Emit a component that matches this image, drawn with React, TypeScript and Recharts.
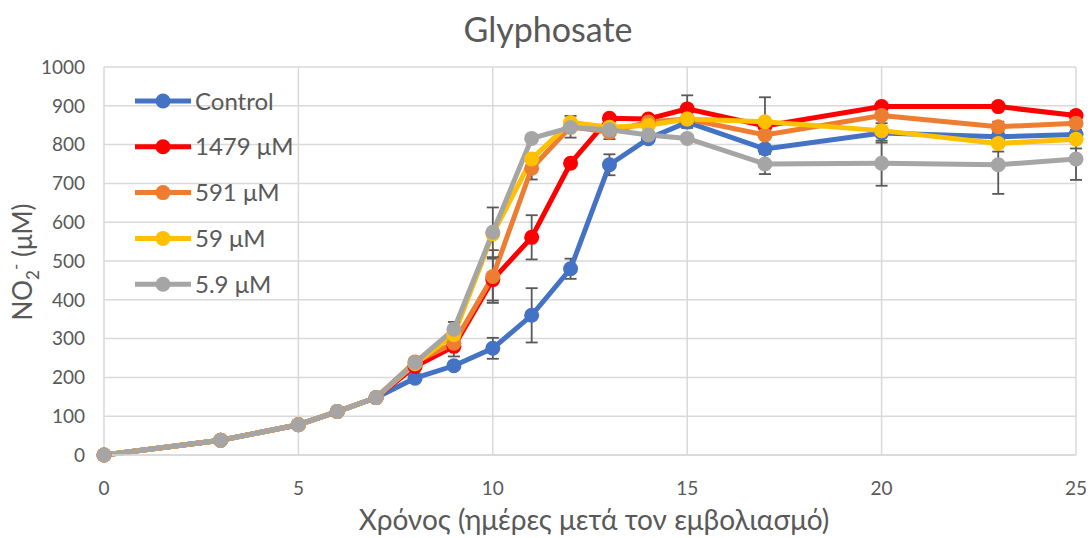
import React from 'react';
import { LineChart, Line, XAxis, YAxis, CartesianGrid, ErrorBar, Customized } from 'recharts';

const days = [0, 3, 5, 6, 7, 8, 9, 10, 11, 12, 13, 14, 15, 17, 20, 23, 25];
const control = [0, 38, 78, 112, 148, 198, 230, 275, 360, 480, 748, 815, 858, 789, 830, 820, 826];
const c1479 = [0, 38, 78, 112, 148, 228, 280, 452, 561, 752, 868, 866, 892, 848, 898, 898, 875];
const c591 = [0, 38, 78, 112, 148, 240, 288, 460, 739, 846, 832, 858, 866, 825, 875, 846, 855];
const c59 = [0, 38, 78, 112, 148, 235, 310, 570, 763, 857, 845, 850, 866, 859, 836, 803, 814];
const c5_9 = [0, 38, 78, 112, 148, 238, 324, 574, 816, 844, 838, 825, 816, 750, 752, 748, 763];

const errControl = [0, 0, 0, 0, 0, 0, 0, 27, 70, 26, 27, 0, 0, 0, 25, 0, 0];
const err1479 = [0, 0, 0, 0, 0, 0, 26, 54, 57, 0, 0, 0, 35, 0, 0, 0, 0];
const err591 = [0, 0, 0, 0, 0, 0, 0, 68, 29, 28, 18, 0, 0, 0, 0, 13, 0];
const err59 = [0, 0, 0, 0, 0, 0, 0, 0, 0, 0, 0, 0, 23, 63, 0, 21, 24];
const err5_9 = [0, 0, 0, 0, 0, 0, 19, 64, 0, 0, 0, 0, 0, 26, 58, 75, 54];

const seriesNames = ['Control', '1479 μM', '591 μM', '59 μM', '5.9 μM'];
const seriesColors = ['#4472C4', '#FF0000', '#ED7D31', '#FFC000', '#A5A5A5'];
const seriesValues = [control, c1479, c591, c59, c5_9];
const seriesErrors = [errControl, err1479, err591, err59, err5_9];

const xTicks = [0, 5, 10, 15, 20, 25];
const yTicks = [0, 100, 200, 300, 400, 500, 600, 700, 800, 900, 1000];

const titleText = 'Glyphosate';
const xTitle = 'Χρόνος (ημέρες μετά τον εμβολιασμό)';

const data = days.map((d, i) => {
  const row: any = { day: d };
  seriesValues.forEach((vals, s) => {
    row['s' + s] = vals[i];
    row['e' + s] = seriesErrors[s][i] || null;
  });
  return row;
});

const FONT = 'Lato, "Open Sans", sans-serif';
const TEXT = '#595959';

const Texts = () => (
  <g fontFamily={FONT} fill={TEXT}>
    <text x={548} y={42} textAnchor="middle" fontSize={34}>{titleText}</text>
    <text x={594} y={530} textAnchor="middle" fontSize={28}>{xTitle}</text>
    <text transform="translate(32,262) rotate(-90)" textAnchor="middle" fontSize={26}>
      NO<tspan fontSize={17} dy={7}>2</tspan>
      <tspan fontSize={17} dy={-17}>-</tspan>
      <tspan dy={10}> (μM)</tspan>
    </text>
    {seriesNames.map((n, i) => {
      const cy = 101 + i * 45.8;
      return (
        <g key={n}>
          <line x1={135} y1={cy} x2={191} y2={cy} stroke={seriesColors[i]} strokeWidth={5} />
          <circle cx={163} cy={cy} r={7.5} fill={seriesColors[i]} />
          <text x={195} y={cy + 8.5} fontSize={24}>{n}</text>
        </g>
      );
    })}
  </g>
);

export default function App() {
  return (
    <div style={{ position: 'absolute', left: 0, top: 0, background: '#fff' }}>
      <LineChart
        width={1091}
        height={538}
        data={data}
        margin={{ top: 67, right: 15, left: 0, bottom: 0 }}
      >
        <CartesianGrid stroke="#D9D9D9" strokeWidth={1.5} />
        <XAxis
          type="number"
          dataKey="day"
          domain={[0, 25]}
          ticks={xTicks}
          tickLine={false}
          axisLine={{ stroke: '#D9D9D9', strokeWidth: 1.5 }}
          tick={{ fill: TEXT, fontSize: 19, fontFamily: FONT }}
          tickMargin={21}
          height={83}
          interval={0}
        />
        <YAxis
          type="number"
          domain={[0, 1000]}
          ticks={yTicks}
          tickLine={false}
          axisLine={false}
          tick={{ fill: TEXT, fontSize: 19, fontFamily: FONT }}
          tickMargin={13}
          width={104}
          interval={0}
        />
        {seriesNames.map((n, i) => (
          <Line
            key={n}
            name={n}
            dataKey={'s' + i}
            stroke={seriesColors[i]}
            strokeWidth={5}
            dot={{ r: 7.5, fill: seriesColors[i], stroke: seriesColors[i], strokeWidth: 0 }}
            activeDot={false}
            isAnimationActive={false}
          >
            <ErrorBar dataKey={'e' + i} direction="y" width={6} stroke="#595959" strokeWidth={1.8} />
          </Line>
        ))}
        <Customized component={Texts} />
      </LineChart>
    </div>
  );
}
